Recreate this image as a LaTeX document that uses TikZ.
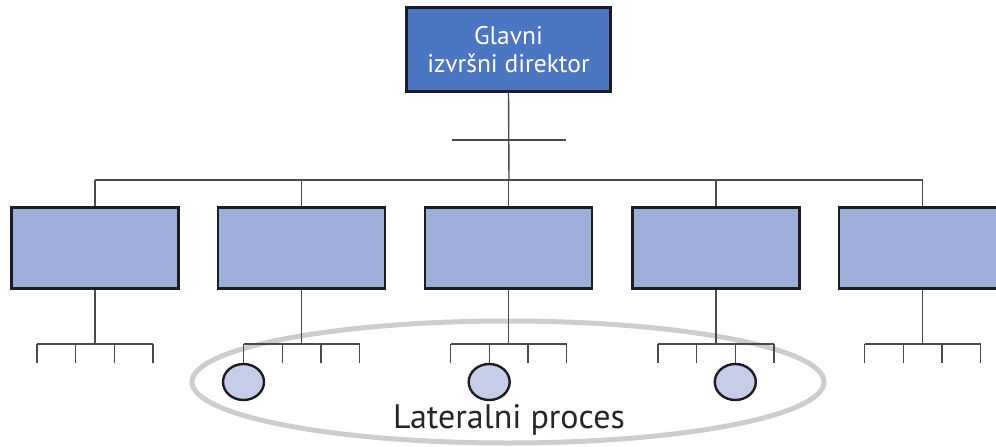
\documentclass[tikz,border=0pt]{standalone}
\usepackage{fontspec}
\setmainfont{PT Sans}
\usetikzlibrary{shapes.geometric}
\definecolor{ceoblue}{HTML}{4A76C2}
\definecolor{boxblue}{HTML}{9DAED8}
\definecolor{circblue}{HTML}{C5CDE8}
\definecolor{linegray}{HTML}{4A4A4A}
\definecolor{ringgray}{HTML}{CDCDCD}
\definecolor{edgedark}{HTML}{1C1C24}
\tikzset{
  ceobox/.style={draw=edgedark, line width=2.6pt, fill=ceoblue, minimum width=204pt, minimum height=84pt, inner sep=0pt, text=white, align=center, font=\fontsize{25.5}{28}\selectfont},
  unitbox/.style={draw=edgedark, line width=2.6pt, fill=boxblue, minimum width=167pt, minimum height=81pt, inner sep=0pt},
  procnode/.style={ellipse, draw=edgedark, line width=2.4pt, fill=circblue, minimum width=41pt, minimum height=36pt, inner sep=0pt},
  conn/.style={draw=linegray, line width=1.4pt},
  ring/.style={draw=ringgray, line width=5pt},
}
\begin{document}
\begin{tikzpicture}[x=1pt, y=-1pt]
\useasboundingbox (0,0) rectangle (996,447);
% lateral process ring
\draw[ring] (508,382) ellipse [x radius=316, y radius=61];
% CEO
\node[ceobox] (ceo) at (508.5,49.5) {Glavni\\izvršni direktor};
\coordinate (bus) at (509,180);
\coordinate (cl) at (452,140);
\coordinate (cr) at (566,140);
\draw[conn] (cl) -- (cr);
\draw[conn] (ceo.south) -- (bus);
% units
\foreach \i/\x in {1/95,2/301.5,3/508.5,4/716,5/922.5}{
  \node[unitbox] (b\i) at (\x,248) {};
  \draw[conn] (b\i.north) -- (b\i.north |- bus);
  \coordinate (j\i) at (\x,344);
  \draw[conn] (b\i.south) -- (j\i);
  \coordinate (tl\i) at (\x-58,344);
  \coordinate (tr\i) at (\x+58,344);
  \draw[conn] (tl\i) -- (tr\i);
}
\draw[conn] (b1.north |- bus) -- (b5.north |- bus);
% ticks
\foreach \i/\x in {1/95,2/301.5,3/508.5,4/716,5/922.5}{
  \foreach \k/\d in {1/-58,2/-19.3,3/19.3,4/58}{
    \coordinate (t\i\k) at (\x+\d,344);
    \coordinate (e\i\k) at (\x+\d,363);
  }
}
\foreach \i/\k in {1/1,1/2,1/3,1/4,2/2,2/3,2/4,3/1,3/3,3/4,4/1,4/2,4/4,5/1,5/2,5/3,5/4}{
  \draw[conn] (t\i\k) -- (e\i\k);
}
\node[procnode] (p1) at (243.5,382) {};
\node[procnode] (p2) at (489.2,382) {};
\node[procnode] (p3) at (735.3,382) {};
\draw[conn] (t21) -- (p1.north);
\draw[conn] (t32) -- (p2.north);
\draw[conn] (t43) -- (p3.north);
\node[text=black!85, font=\fontsize{34}{37}\selectfont, inner sep=0pt] (lab) at (509,420) {Lateralni proces};
\end{tikzpicture}
\end{document}
